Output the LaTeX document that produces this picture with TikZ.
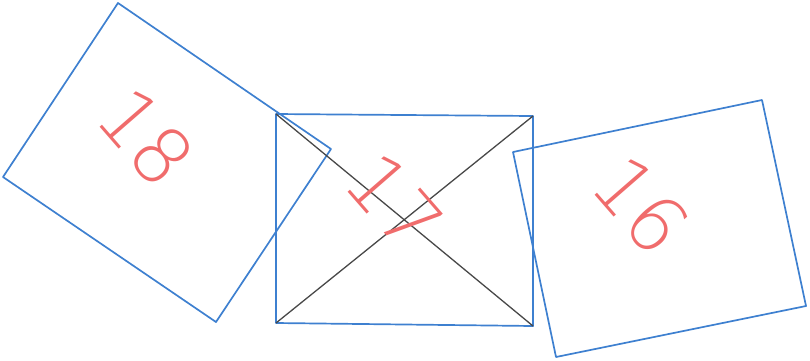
\documentclass[tikz,border=0pt]{standalone}
\usepackage{fontspec}
\usepackage{xcolor}
\newfontfamily\handfont{DejaVu Sans ExtraLight}
\usepackage{tikz}
\usetikzlibrary{calc}

\definecolor{sheetblue}{RGB}{62,128,208}
\definecolor{tagred}{RGB}{240,108,108}
\definecolor{crossgray}{RGB}{72,72,72}

\begin{document}
\begin{tikzpicture}[
  x=1pt, y=-1pt,
  sheet/.style={draw=sheetblue, line width=1.7pt, line join=round},
  cross/.style={draw=crossgray, line width=1.3pt},
  tag/.style={text=tagred, font=\handfont\fontsize{78}{78}\selectfont, inner sep=0pt, rotate=-49}
]
\useasboundingbox (0,0) rectangle (810,360);

% Left sheet
\coordinate (l1) at (118,3);
\coordinate (l2) at (331,149);
\coordinate (l3) at (216,322);
\coordinate (l4) at (3,177);
\draw[sheet] (l1) -- (l2) -- (l3) -- (l4) -- cycle;

% Middle sheet
\coordinate (m1) at (276,114);
\coordinate (m2) at (533,116);
\coordinate (m3) at (533,326);
\coordinate (m4) at (276,323);
\draw[sheet] (m1) -- (m2) -- (m3) -- (m4) -- cycle;
\draw[cross] (m1) -- (m3);
\draw[cross] (m2) -- (m4);

% Right sheet
\coordinate (r1) at (513,152);
\coordinate (r2) at (762,100);
\coordinate (r3) at (806,306);
\coordinate (r4) at (556,357);
\draw[sheet] (r1) -- (r2) -- (r3) -- (r4) -- cycle;

% Labels
\node[tag] (t18) at (146,137) {18};
\node[tag] (t17) at (395,202) {17};
\node[tag] (t16) at (641,205) {16};
\end{tikzpicture}
\end{document}
